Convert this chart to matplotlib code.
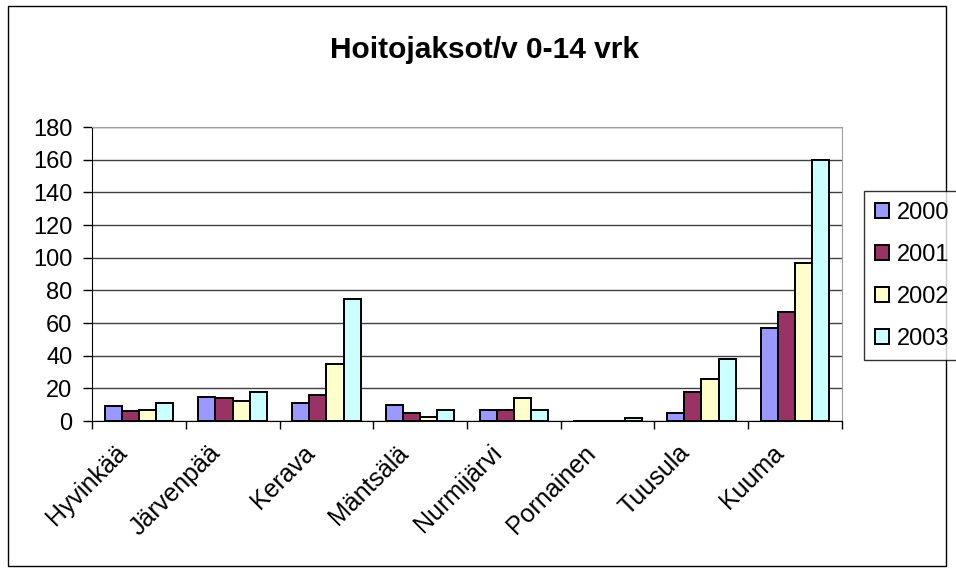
import matplotlib
matplotlib.use("Agg")
import matplotlib.pyplot as plt
import matplotlib.transforms as mtrans
import numpy as np
from matplotlib.patches import Rectangle

categories = ["Hyvinkää", "Järvenpää", "Kerava", "Mäntsälä", "Nurmijärvi", "Pornainen", "Tuusula", "Kuuma"]
years = ["2000", "2001", "2002", "2003"]
v2000 = [9, 15, 11, 10, 7, 0, 5, 57]
v2001 = [6, 14, 16, 5, 7, 0, 18, 67]
v2002 = [7, 12, 35, 2.5, 14, 0, 26, 97]
v2003 = [11, 18, 75, 7, 7, 2, 38, 160]
colors = ["#9999FF", "#993366", "#FFFFCC", "#CCFFFF"]
title = "Hoitojaksot/v 0-14 vrk"

plt.rcParams['font.family'] = ['Liberation Sans', 'DejaVu Sans']
FS = 17

fig = plt.figure(figsize=(9.56, 5.72), dpi=100)
fig.patches.append(Rectangle((8/956, 6/572), 938/956, 560/572, transform=fig.transFigure,
                             fill=False, edgecolor='black', linewidth=1.0))
ax = fig.add_axes([92/956, 1-421/572, 750/956, 294/572])

x = np.arange(len(categories))
w = 0.183
series = [v2000, v2001, v2002, v2003]
handles = []
for i, (vals, c, lab) in enumerate(zip(series, colors, years)):
    b = ax.bar(x + (i - 1.5) * w, vals, w, color=c, edgecolor='black', linewidth=1.4,
               label=lab, zorder=3)
    handles.append(b)

ax.set_xlim(-0.5, len(categories) - 0.5)
ax.set_ylim(0, 180)
ax.set_yticks(np.arange(0, 181, 20))
ax.yaxis.grid(True, color='#404040', linewidth=1.0, zorder=0)
ax.set_axisbelow(True)
ax.tick_params(axis='y', labelsize=FS, length=6.5, direction='out', width=1, pad=7.5)
ax.set_xticks(x)
ax.set_xticklabels(categories, rotation=45, ha='right', va='top', rotation_mode='anchor', fontsize=18)
ax.tick_params(axis='x', length=0, pad=9)
ax.set_xticks(np.arange(-0.5, len(categories), 1), minor=True)
ax.tick_params(axis='x', which='minor', length=6, width=1, direction='out')
for lbl in ax.get_xticklabels():
    lbl.set_transform(lbl.get_transform() + mtrans.ScaledTranslation(-24/100, -7/100, fig.dpi_scale_trans))

ax.spines['left'].set_color('black')
ax.spines['bottom'].set_color('black')
ax.spines['bottom'].set_zorder(4)
ax.spines['top'].set_color('#a0a0a0')
ax.spines['right'].set_color('#a0a0a0')

fig.text(484/956, 1-50/572, title, ha='center', va='center', fontsize=21.5, fontweight='bold')

leg = fig.legend(handles=handles, labels=years, loc='upper left',
                 bbox_to_anchor=(864/956, 1-191/572), fontsize=FS,
                 frameon=True, fancybox=False, edgecolor='black', handlelength=0.6,
                 handleheight=0.6, handletextpad=0.35, labelspacing=0.85, borderpad=0.45,
                 borderaxespad=0)
leg.get_frame().set_linewidth(1.0)

fig.savefig("out.png", dpi=100)
